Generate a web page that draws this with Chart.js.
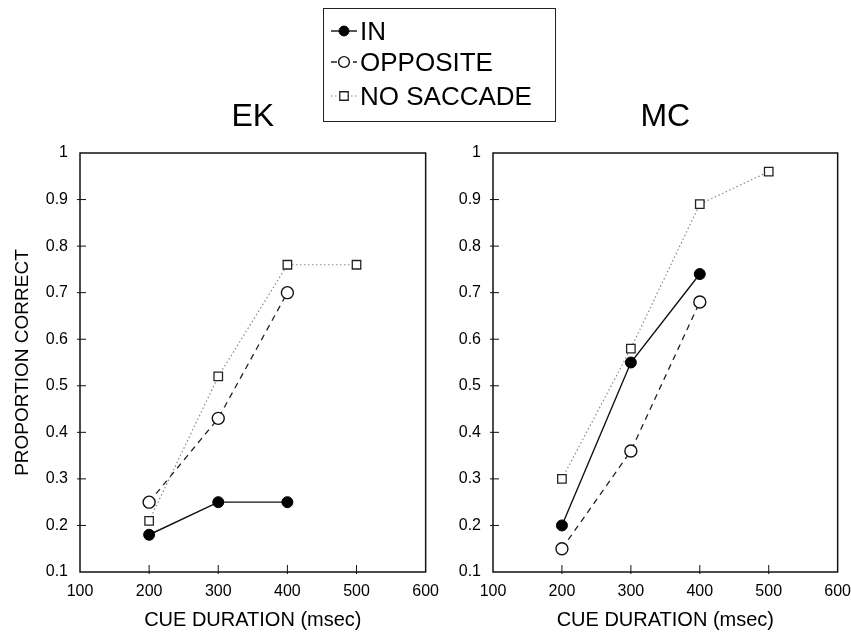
<!DOCTYPE html>
<html>
<head>
<meta charset="utf-8">
<script src="https://cdn.jsdelivr.net/npm/chart.js@4.4.1/dist/chart.umd.min.js"></script>
<style>
    body { margin: 0; background: #fff; width: 851px; height: 640px; position: relative; overflow: hidden;
           font-family: "Liberation Sans", Arial, sans-serif; color: #000; }
    #ek { position: absolute; left: 0; top: 0; }
    #mc { position: absolute; left: 420px; top: 0; }
    #legend { position: absolute; left: 323px; top: 8px; width: 233px; height: 114px;
              border: 1.5px solid #222; box-sizing: border-box; background: #fff; }
    .row { position: absolute; left: 6px; height: 30px; display: flex; align-items: center;
           font-size: 26px; line-height: 30px; }
    .row canvas { margin-right: 2px; }
</style>
</head>
<body>
<canvas id="ek" width="449" height="640"></canvas>
<canvas id="mc" width="441" height="640"></canvas>
<div id="legend">
    <div class="row" style="top:7px"><canvas id="keyIn" width="28" height="20"></canvas>IN</div>
    <div class="row" style="top:38px"><canvas id="keyOpp" width="28" height="20"></canvas>OPPOSITE</div>
    <div class="row" style="top:72px"><canvas id="keyNo" width="28" height="20"></canvas>NO SACCADE</div>
</div>
<script>
// Data (cue duration in msec vs proportion correct)
const durations = [200, 300, 400, 500];
const seriesNames = ['IN', 'OPPOSITE', 'NO SACCADE'];

// EK
const ekIn = [0.18, 0.25, 0.25, null];
const ekOpposite = [0.25, 0.43, 0.70, null];
const ekNoSaccade = [0.21, 0.52, 0.76, 0.76];

// MC
const mcIn = [0.20, 0.55, 0.74, null];
const mcOpposite = [0.15, 0.36, 0.68, null];
const mcNoSaccade = [0.30, 0.58, 0.89, 0.96];

const xMin = 100, xMax = 600, xStep = 100;
const yMin = 0.1, yMax = 1, yStep = 0.1;

Chart.defaults.font.family = '"Liberation Sans", Arial, sans-serif';
Chart.defaults.color = '#000';

// turn a value list into points for the linear x scale
function toPoints(values) {
    const pts = [];
    values.forEach((v, i) => {
        if (v !== null) pts.push({ x: durations[i], y: v });
    });
    return pts;
}

const styles = {
    'IN': {
        borderColor: '#111', borderWidth: 1.4, borderDash: [],
        pointStyle: 'circle', pointRadius: 5.5,
        pointBackgroundColor: '#000', pointBorderColor: '#000', pointBorderWidth: 1
    },
    'OPPOSITE': {
        borderColor: '#222', borderWidth: 1.3, borderDash: [6, 5],
        pointStyle: 'circle', pointRadius: 6,
        pointBackgroundColor: '#fff', pointBorderColor: '#111', pointBorderWidth: 1.4
    },
    'NO SACCADE': {
        borderColor: '#888', borderWidth: 1.2, borderDash: [1.5, 2.5],
        pointStyle: 'rect', pointRadius: 6,
        pointBackgroundColor: '#fff', pointBorderColor: '#222', pointBorderWidth: 1.3
    }
};

// box around the plot + small inward tick marks
const framePlugin = {
    id: 'frame',
    beforeDatasetsDraw(chart) {
        const { ctx, chartArea: a, scales } = chart;
        ctx.save();
        ctx.strokeStyle = '#111';
        ctx.lineWidth = 1.5;
        ctx.strokeRect(a.left, a.top, a.right - a.left, a.bottom - a.top);
        ctx.lineWidth = 1;
        scales.x.ticks.forEach(t => {
            if (t.value === xMin || t.value === xMax) return;
            const px = scales.x.getPixelForValue(t.value);
            ctx.beginPath();
            ctx.moveTo(px, a.bottom + 2);
            ctx.lineTo(px, a.bottom - 7);
            ctx.stroke();
        });
        scales.y.ticks.forEach(t => {
            const py = scales.y.getPixelForValue(t.value);
            if (Math.abs(py - a.top) < 1 || Math.abs(py - a.bottom) < 1) return;
            ctx.beginPath();
            ctx.moveTo(a.left - 3, py);
            ctx.lineTo(a.left + 6, py);
            ctx.stroke();
        });
        ctx.restore();
    }
};

function makePanel(canvasId, title, data, showYTitle) {
    const datasets = seriesNames.map((name, i) => Object.assign({
        label: name,
        data: toPoints(data[i]),
        fill: false,
        tension: 0
    }, styles[name]));

    return new Chart(document.getElementById(canvasId), {
        type: 'line',
        data: { datasets: datasets },
        options: {
            responsive: false,
            animation: false,
            layout: {
                padding: { top: 97.6, left: showYTitle ? 11.6 : 0, right: 0, bottom: 8 }
            },
            plugins: {
                legend: { display: false },
                tooltip: { enabled: false },
                title: {
                    display: true,
                    text: title,
                    fullSize: false,
                    font: { size: 32, weight: 'normal' },
                    padding: { top: 0, bottom: 17 }
                }
            },
            scales: {
                x: {
                    type: 'linear',
                    min: xMin, max: xMax,
                    grid: { display: false, drawTicks: false },
                    border: { display: false },
                    ticks: { stepSize: xStep, padding: 10, font: { size: 16 }, maxRotation: 0, autoSkip: false },
                    title: { display: true, text: 'CUE DURATION (msec)', font: { size: 20 }, padding: 0 },
                    afterFit(scale) { scale.height = 60; }
                },
                y: {
                    min: yMin, max: yMax,
                    grid: { display: false, drawTicks: false },
                    border: { display: false },
                    ticks: {
                        stepSize: yStep, padding: 12, font: { size: 16 },
                        callback: v => String(Math.round(v * 10) / 10)
                    },
                    title: { display: showYTitle, text: 'PROPORTION CORRECT', font: { size: 19 }, padding: 0 },
                    afterFit(scale) { scale.width = showYTitle ? 68.4 : 73; }
                }
            }
        },
        plugins: [framePlugin]
    });
}

makePanel('ek', 'EK', [ekIn, ekOpposite, ekNoSaccade], true);
makePanel('mc', 'MC', [mcIn, mcOpposite, mcNoSaccade], false);

// legend keys: short line with the marker in the middle
function drawKey(canvasId, name) {
    const s = styles[name];
    const ctx = document.getElementById(canvasId).getContext('2d');
    ctx.strokeStyle = s.borderColor;
    ctx.lineWidth = s.borderWidth;
    ctx.setLineDash(s.borderDash);
    ctx.beginPath();
    ctx.moveTo(1, 10);
    ctx.lineTo(27, 10);
    ctx.stroke();
    ctx.setLineDash([]);
    ctx.fillStyle = s.pointBackgroundColor;
    ctx.strokeStyle = s.pointBorderColor;
    ctx.lineWidth = s.pointBorderWidth;
    ctx.beginPath();
    if (s.pointStyle === 'rect') {
        const h = s.pointRadius / Math.SQRT2;
        ctx.rect(14 - h, 10 - h, 2 * h, 2 * h);
    } else {
        ctx.arc(14, 10, s.pointRadius * 0.9, 0, Math.PI * 2);
    }
    ctx.fill();
    ctx.stroke();
}

drawKey('keyIn', 'IN');
drawKey('keyOpp', 'OPPOSITE');
drawKey('keyNo', 'NO SACCADE');
</script>
</body>
</html>
